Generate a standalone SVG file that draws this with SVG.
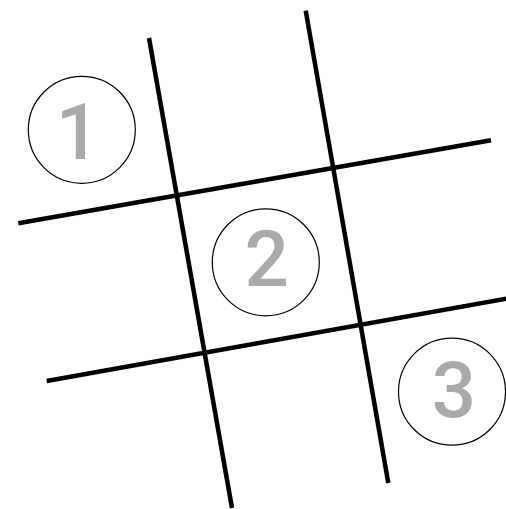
<svg xmlns="http://www.w3.org/2000/svg" width="506" height="509" viewBox="0 0 506 509">
<style>
.grid line{stroke:#000;stroke-width:4.5;stroke-linecap:butt}
.node circle{fill:none;stroke:#000;stroke-width:1.2}
.node text{font-family:Roboto,"Liberation Sans",sans-serif;font-size:78px;font-weight:500;fill:#aaa;text-anchor:middle}
</style>
<rect width="506" height="509" fill="#fff"/>
<g id="grid" class="grid">
<line x1="149" y1="38" x2="232" y2="508"/>
<line x1="305.7" y1="10.7" x2="388.3" y2="483"/>
<line x1="18.3" y1="223.3" x2="491" y2="140.3"/>
<line x1="46.7" y1="381" x2="507" y2="298.5"/>
</g>
<g id="node1" class="node">
<circle cx="81.8" cy="129.8" r="53.5"/>
<text x="78" y="159">1</text>
</g>
<g id="node2" class="node">
<circle cx="265.8" cy="262.3" r="53.5"/>
<text x="266.7" y="285.7">2</text>
</g>
<g id="node3" class="node">
<circle cx="452" cy="391.7" r="53.5"/>
<text x="454" y="417.3">3</text>
</g>
</svg>
